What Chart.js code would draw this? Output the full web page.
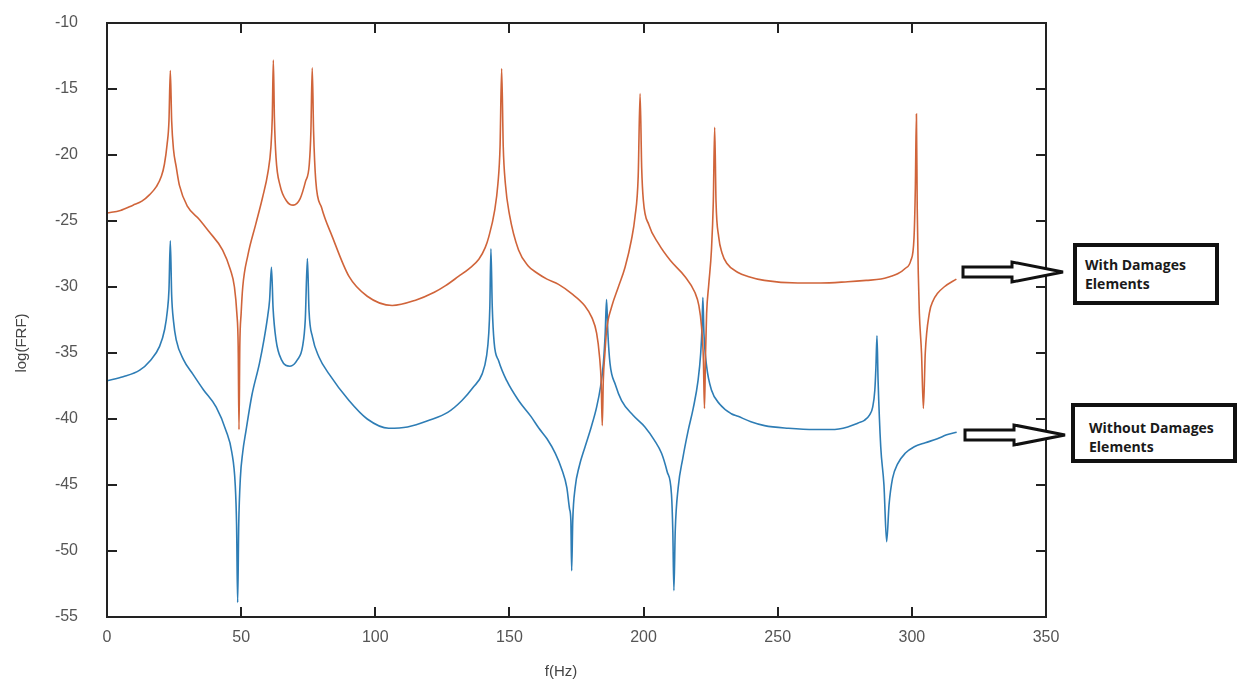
<!DOCTYPE html>
<html>
<head>
<meta charset="utf-8">
<script src="https://cdn.jsdelivr.net/npm/chart.js@4.4.0/dist/chart.umd.min.js"></script>
<style>
  html, body { margin: 0; padding: 0; background: #fff; }
  #wrap { position: relative; width: 1242px; height: 682px; }
  #myChart { position: absolute; left: 0; top: 0; }
  .note {
    position: absolute; box-sizing: border-box; border: 4px solid #111; background: #fff;
    font-family: "Open Sans", Lato, sans-serif; font-weight: bold; font-size: 14px;
    line-height: 19px; color: #1a1a1a;
  }
  #arrows { position: absolute; left: 0; top: 0; }
</style>
</head>
<body>
<div id="wrap">
  <canvas id="myChart" width="1242" height="682"></canvas>
  <svg id="arrows" width="1242" height="682">
    <polygon points="963,267 1012,267 1012,262 1063,272 1012,282 1012,277 963,277" fill="#fff" stroke="#111" stroke-width="3"/>
    <polygon points="965,430 1014,430 1014,425 1065,435 1014,445 1014,440 965,440" fill="#fff" stroke="#111" stroke-width="3"/>
  </svg>
  <div class="note" style="left:1073px; top:243px; width:146px; height:62px; padding:8px 0 0 8px;">With Damages<br>Elements</div>
  <div class="note" style="left:1071px; top:403px; width:166px; height:60px; padding:11px 0 0 14px;">Without Damages<br>Elements</div>
</div>
<script>
(function () {
    const ctx = document.getElementById('myChart');

    // frequency axis ticks (Hz) and log(FRF) ticks
    const xTicks = [0, 50, 100, 150, 200, 250, 300, 350];
    const yTicks = [-10, -15, -20, -25, -30, -35, -40, -45, -50, -55];

    // With Damages Elements (orange)
    const withFreq = [0, 5, 9.7, 13, 15.9, 18.4, 20.3, 21.4, 22.4, 23.1, 23.6, 24.1, 24.8, 25.8, 27, 30, 34.5, 38, 43.1, 46, 47.5, 48.4, 48.9, 49.2, 49.5, 50.0, 50.6,
        52.5, 55.5, 58, 60, 61.1, 61.6, 62, 62.4, 63, 64.5, 67, 69.4, 72, 74, 75.4, 76.0, 76.5, 77.0, 77.8, 80, 84, 90.2, 97, 106.3, 115,
        122, 126.2, 131, 135, 138.6, 141, 142.3, 144.5, 145.7, 146.5, 147.1, 147.7, 148.5, 150, 153.4, 157, 160, 164, 168.3, 173.2, 178, 180.7, 182.5, 183.6, 184.2, 184.6,
        185.0, 185.6, 186.2, 188.1, 190.6, 193.1, 195.5, 196.8, 198, 198.7, 199.3, 199.9, 202, 205.5, 210, 215.4, 219.1, 220.6, 221.6, 222.3, 222.7,
        223.1, 223.5, 224.3, 225.3, 226, 226.5, 227, 228, 229.2, 231, 235.2, 238.9, 245, 257.5, 266, 276.1, 283, 288.5, 292, 294.7, 297.5, 299.6,
        300.8, 301.3, 301.7, 302.0, 302.4, 302.8, 303.6, 304.3, 305, 306.5, 308, 309.5, 312, 316.6];
    const withVals = [-24.4, -24.2, -23.8, -23.5, -23.0, -22.4, -21.6, -20.7, -19.2, -17.4, -13.6, -17.4, -19.6, -20.9, -22.3, -23.9, -24.9, -25.8, -27.2, -28.7, -30, -32.0, -34.5, -40.8, -34.5, -32.0, -30,
        -27.6, -25.2, -23.2, -21.3, -19.4, -17.2, -12.8, -17.2, -20.2, -22.3, -23.5, -23.8, -23.3, -22.0, -20.7, -18.2, -13.4, -18.2, -21.9, -24.0, -26.2, -29.2, -30.7, -31.4, -31.0,
        -30.4, -29.9, -29.2, -28.6, -27.9, -27.0, -26.2, -24.2, -22.2, -19.4, -13.45, -19.4, -22.2, -24.5, -27.2, -28.4, -28.9, -29.4, -29.8, -30.5, -31.4, -32.3, -33.5, -35.3, -37.2, -40.5,
        -37.0, -35.0, -33.3, -31.5, -30.0, -28.5, -26.4, -24.7, -21.6, -15.35, -21.0, -23.4, -25.3, -26.7, -28.0, -29.2, -30.4, -31.4, -33.0, -35.5, -39.2,
        -35.0, -32.0, -29.8, -27.2, -23.5, -17.9, -23.5, -26.2, -27.4, -28.2, -28.9, -29.2, -29.5, -29.7, -29.7, -29.6, -29.5, -29.4, -29.2, -29.0, -28.6, -28.0,
        -26.3, -22.5, -16.9, -24, -29, -32, -35, -39.2, -35, -32, -31.0, -30.5, -30.0, -29.4];

    // Without Damages Elements (blue)
    const withoutFreq = [0, 6, 12.2, 16, 19.6, 21.5, 22.5, 23.1, 23.6, 24.1, 24.8, 25.8, 28.5, 32, 36, 40.7, 44.4, 46.5, 47.8, 48.3, 48.7, 49.1, 49.7, 50.6,
        51.8, 54, 56.8, 58.5, 59.9, 60.6, 61.3, 61.9, 63, 65, 68.2, 71, 72.9, 73.9, 74.7, 75.3, 76.6, 79, 82.8, 90.2, 97, 105, 112, 120, 127,
        132.3, 136.5, 139.8, 141.5, 142.3, 142.7, 143.1, 143.6, 144.3, 146, 149, 153.4, 158, 161, 164, 167.1, 169.5, 171.4, 172.4, 172.9,
        173.2, 173.6, 174.5, 176, 178.2, 180.5, 182.5, 184, 185, 185.7, 186.2, 186.7, 187.5, 189.5, 191.8, 196, 200.5, 204, 206.7, 208.8,
        210.4, 210.9, 211.3, 211.8, 212.9, 214.6, 216.6, 218.5, 220.3, 221.3, 221.8, 222.1, 222.5, 223.5, 225.3, 228.5, 232.7, 235.2, 240,
        245.1, 254, 263.7, 270, 276.1, 280, 282.3, 284.2, 285.4, 286.2, 286.6, 287, 287.4, 288.4, 289.6, 290.6, 291.5, 292.8, 294.7, 297.5,
        300.9, 305, 309.5, 313, 316.7];
    const withoutVals = [-37.1, -36.8, -36.3, -35.6, -34.5, -33.2, -31.8, -30.2, -26.5, -30.6, -32.6, -34, -35.5, -36.6, -37.8, -39.1, -40.9, -42.5, -45, -48, -53.9, -48, -44.5, -42.5,
        -40.9, -38.2, -35.8, -34.0, -32.2, -31.0, -28.5, -31.6, -34, -35.5, -36.0, -35.5, -34.5, -32.5, -27.85, -31.8, -33.8, -35.3, -36.6, -38.6, -40.0, -40.7, -40.6, -40.1, -39.5,
        -38.6, -37.6, -36.6, -35.2, -33.5, -31.5, -27.1, -31.5, -34.2, -35.6, -37.1, -38.6, -39.8, -40.7, -41.5, -42.6, -43.8, -45.2, -46.8, -47.7,
        -51.5, -47.7, -45.2, -43.6, -42.1, -40.6, -39.1, -37.5, -35.8, -33.5, -30.95, -33.5, -35.8, -37.4, -38.6, -39.7, -40.6, -41.6, -42.6, -44.0,
        -45.7, -48.5, -53.0, -48.5, -45.2, -43, -40.9, -39.2, -37.1, -35, -33, -30.8, -33.5, -36, -37.8, -38.9, -39.6, -39.8, -40.2,
        -40.5, -40.7, -40.8, -40.8, -40.6, -40.3, -40.1, -39.7, -39.1, -37.8, -36.1, -33.7, -37, -42.1, -45, -49.3, -46.5, -44.5, -43.4, -42.6,
        -42.1, -41.8, -41.5, -41.2, -41.0];

    const toPoints = (xs, ys) => xs.map((x, i) => ({ x: x, y: ys[i] }));
    const fontFamily = '"Liberation Sans", Arial, sans-serif';

    const framePlugin = {
        id: 'frame',
        afterDraw(chart) {
            const c = chart.ctx;
            const { left, right, top, bottom } = chart.chartArea;
            const sx = chart.scales.x, sy = chart.scales.y;
            c.save();
            c.strokeStyle = '#222';
            c.lineWidth = 2;
            c.strokeRect(left, top, right - left, bottom - top);
            c.beginPath();
            xTicks.forEach(v => {
                const p = Math.round(sx.getPixelForValue(v));
                c.moveTo(p, bottom); c.lineTo(p, bottom - 10);
                c.moveTo(p, top); c.lineTo(p, top + 10);
            });
            yTicks.forEach(v => {
                const p = Math.round(sy.getPixelForValue(v));
                c.moveTo(left, p); c.lineTo(left + 10, p);
                c.moveTo(right, p); c.lineTo(right - 10, p);
            });
            c.stroke();

            c.fillStyle = '#444';
            c.font = '15px ' + fontFamily;
            c.textAlign = 'center';
            c.textBaseline = 'middle';
            c.fillText('f(Hz)', 561, 672);
            c.translate(22, 343);
            c.rotate(-Math.PI / 2);
            c.fillText('log(FRF)', 0, 0);
            c.restore();
        }
    };

    const data = {
        datasets: [{
            label: 'With Damages Elements',
            data: toPoints(withFreq, withVals),
            borderColor: '#d0643a',
            borderWidth: 1.6,
            pointRadius: 0,
            cubicInterpolationMode: 'monotone'
        }, {
            label: 'Without Damages Elements',
            data: toPoints(withoutFreq, withoutVals),
            borderColor: '#2e7db5',
            borderWidth: 1.6,
            pointRadius: 0,
            cubicInterpolationMode: 'monotone'
        }]
    };

    const config = {
        type: 'line',
        data: data,
        options: {
            responsive: false,
            animation: false,
            layout: { padding: { top: 23, right: 196, left: 0, bottom: 0 } },
            scales: {
                x: {
                    type: 'linear',
                    min: 0,
                    max: 350,
                    afterFit: s => { s.height = 65; s.paddingLeft = 0; s.paddingRight = 0; },
                    afterBuildTicks: s => { s.ticks = xTicks.map(v => ({ value: v })); },
                    grid: { display: false, drawTicks: false },
                    border: { display: false },
                    ticks: { padding: 11, color: '#555', font: { size: 16, family: fontFamily } }
                },
                y: {
                    min: -55,
                    max: -10,
                    afterFit: s => { s.width = 107; s.paddingTop = 0; s.paddingBottom = 0; },
                    afterBuildTicks: s => { s.ticks = yTicks.map(v => ({ value: v })); },
                    grid: { display: false, drawTicks: false },
                    border: { display: false },
                    ticks: { padding: 29, color: '#555', font: { size: 16, family: fontFamily } }
                }
            },
            plugins: {
                legend: { display: false },
                tooltip: { enabled: false }
            }
        },
        plugins: [framePlugin]
    };

    if (ctx) {
        new Chart(ctx, config);
    }
})();
</script>
</body>
</html>
